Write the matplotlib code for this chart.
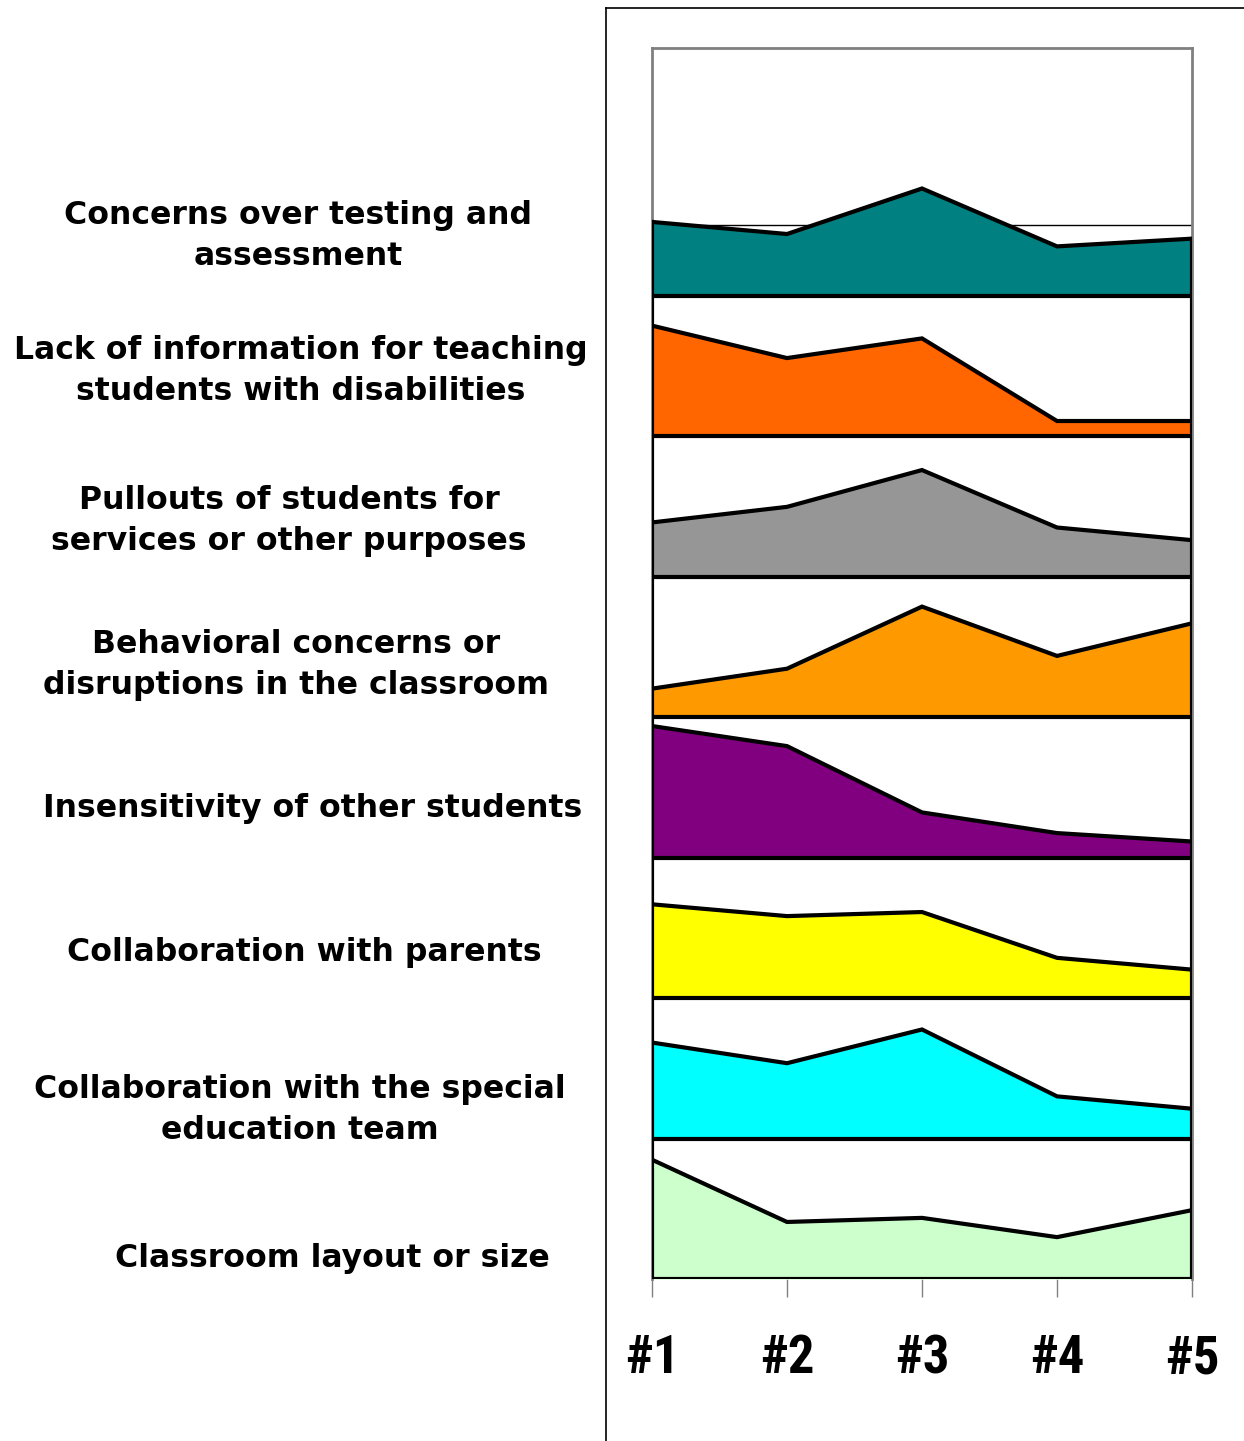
import matplotlib
matplotlib.use("Agg")
import matplotlib.pyplot as plt
from matplotlib.lines import Line2D
from matplotlib import font_manager
import numpy as np

# ---- data (band-relative values, 1.0 = full band height), listed top to bottom ----
categories = ["#1", "#2", "#3", "#4", "#5"]
labels = [
    "Concerns over testing and\nassessment",
    "Lack of information for teaching\nstudents with disabilities",
    "Pullouts of students for\nservices or other purposes",
    "Behavioral concerns or\ndisruptions in the classroom",
    "Insensitivity of other students",
    "Collaboration with parents",
    "Collaboration with the special\neducation team",
    "Classroom layout or size",
]
testing = [0.524, 0.438, 0.762, 0.350, 0.405]
lack_info = [0.786, 0.555, 0.695, 0.107, 0.107]
pullouts = [0.385, 0.496, 0.758, 0.349, 0.259]
behavioral = [0.202, 0.344, 0.786, 0.435, 0.667]
insensitivity = [0.936, 0.793, 0.321, 0.174, 0.114]
parents = [0.667, 0.583, 0.612, 0.286, 0.202]
special_ed = [0.683, 0.536, 0.776, 0.300, 0.212]
layout = [0.849, 0.406, 0.435, 0.298, 0.490]

series = [testing, lack_info, pullouts, behavioral, insensitivity, parents, special_ed, layout]
colors = ["#008080", "#FF6600", "#969696", "#FF9900", "#800080", "#FFFF00", "#00FFFF", "#CCFFCC"]

# label placement (figure pixel centers)
label_x_px = [298, 301, 289, 296, 313, 304, 300, 332]
label_y_px = [236, 371, 521, 665, 808, 953, 1110, 1258]

# pick a condensed bold font for the category labels if one is installed
cond_family = None
for pref in ["Liberation Sans Narrow", "Roboto Condensed", "DejaVu Sans Condensed",
             "Open Sans Condensed", "Noto Sans Condensed"]:
    if any(f.name == pref for f in font_manager.fontManager.ttflist):
        cond_family = pref
        break
if cond_family is None:
    for f in font_manager.fontManager.ttflist:
        if ("Narrow" in f.name or "Condensed" in f.name or f.stretch in ("condensed", "semi-condensed")):
            cond_family = f.name
            break
tick_family = [cond_family] if cond_family else []
tick_family += ["Liberation Sans", "DejaVu Sans"]

W, H = 1244, 1441
fig = plt.figure(figsize=(W / 100, H / 100), dpi=100)
ax = fig.add_axes([652 / W, 1 - 1279 / H, (1192 - 652) / W, (1279 - 48) / H])

x = np.arange(len(categories))
n = len(series)
lw = 3.0
for i, (vals, col) in enumerate(zip(series, colors)):
    base = n - 1 - i
    top = base + np.array(vals)
    ax.fill_between(x, base, top, color=col, linewidth=0, zorder=2)
    ax.plot(x, top, color="black", lw=lw, zorder=4, solid_joinstyle="miter")
    ax.plot([x[0], x[0]], [base, top[0]], color="black", lw=lw, zorder=4)
    ax.plot([x[-1], x[-1]], [base, top[-1]], color="black", lw=lw, zorder=4)
    ax.plot([x[0], x[-1]], [base, base], color="black", lw=lw, zorder=5)
    if i > 0:
        ax.plot([x[0], x[0]], [top[0], base + 1], color="black", lw=lw, zorder=4)
        ax.plot([x[-1], x[-1]], [top[-1], base + 1], color="black", lw=lw, zorder=4)

# thin reference line behind top band
ax.plot([x[0], x[-1]], [n - 0.5, n - 0.5], color="black", lw=1.0, zorder=1)

ax.set_xlim(x[0], x[-1])
ax.set_ylim(0, n - 1 + 1.762)
ax.set_yticks([])
ax.set_xticks(x)
ax.set_xticklabels(categories, fontsize=38, fontweight="bold", family=tick_family,
                   fontstretch="condensed")
ax.tick_params(axis="x", direction="out", length=13, width=1, color="#808080", pad=26)
for side in ["top", "right", "left"]:
    ax.spines[side].set_color("#808080")
    ax.spines[side].set_linewidth(2)
ax.spines["bottom"].set_visible(False)
ax.set_facecolor("white")

for lab, lx, ly in zip(labels, label_x_px, label_y_px):
    fig.text(lx / W, 1 - ly / H, lab, ha="center", va="center", multialignment="center",
             fontsize=22.7, fontweight="bold", family="DejaVu Sans", linespacing=1.4)

# outer chart frame (left and top edges)
fig.add_artist(Line2D([606 / W, 606 / W], [0, 1 - 8 / H], color="black", lw=1.2))
fig.add_artist(Line2D([606 / W, 1], [1 - 8 / H, 1 - 8 / H], color="black", lw=1.2))

fig.savefig("out.png", dpi=100)
